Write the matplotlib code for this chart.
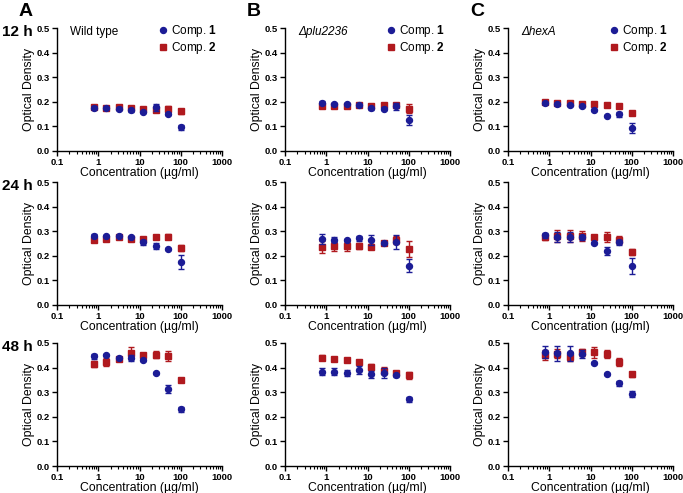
import matplotlib
matplotlib.use("Agg")
import matplotlib.pyplot as plt
from matplotlib.ticker import LogLocator, NullFormatter, FixedLocator, FormatStrFormatter
from matplotlib.lines import Line2D
import numpy as np

plt.rcParams['font.family'] = ['Liberation Sans', 'DejaVu Sans']
plt.rcParams['mathtext.fontset'] = 'custom'
plt.rcParams['mathtext.rm'] = 'Liberation Sans'
plt.rcParams['mathtext.bf'] = 'Liberation Sans:bold'
plt.rcParams['mathtext.it'] = 'Liberation Sans:italic'

conc = [0.78, 1.56, 3.125, 6.25, 12.5, 25, 50, 100]
row_labels = ["12 h", "24 h", "48 h"]
col_letters = ["A", "B", "C"]
strain_labels = ["Wild type", "Δplu2236", "ΔhexA"]
strain_styles = ["normal", "italic", "italic"]
series_labels = [r'Comp. $\mathbf{1}$', r'Comp. $\mathbf{2}$']

# 12 h
c1_12_A = [0.175, 0.175, 0.172, 0.165, 0.158, 0.178, 0.150, 0.097]
c1_12_A_err = [0.006, 0.004, 0.005, 0.005, 0.005, 0.015, 0.005, 0.010]
c2_12_A = [0.178, 0.176, 0.177, 0.173, 0.172, 0.166, 0.170, 0.162]
c2_12_A_err = [0.004, 0.004, 0.004, 0.004, 0.004, 0.006, 0.012, 0.010]
c1_12_B = [0.197, 0.193, 0.190, 0.186, 0.173, 0.172, 0.182, 0.125]
c1_12_B_err = [0.005, 0.004, 0.004, 0.004, 0.006, 0.006, 0.015, 0.020]
c2_12_B = [0.183, 0.181, 0.183, 0.185, 0.183, 0.186, 0.185, 0.172]
c2_12_B_err = [0.004, 0.004, 0.004, 0.004, 0.004, 0.004, 0.005, 0.018]
c1_12_C = [0.196, 0.192, 0.187, 0.182, 0.168, 0.144, 0.150, 0.095]
c1_12_C_err = [0.004, 0.004, 0.004, 0.005, 0.004, 0.003, 0.010, 0.020]
c2_12_C = [0.200, 0.197, 0.195, 0.193, 0.190, 0.187, 0.183, 0.155]
c2_12_C_err = [0.003, 0.003, 0.003, 0.003, 0.003, 0.003, 0.003, 0.003]

# 24 h
c1_24_A = [0.282, 0.281, 0.279, 0.278, 0.255, 0.240, 0.227, 0.175]
c1_24_A_err = [0.005, 0.004, 0.004, 0.004, 0.010, 0.012, 0.003, 0.030]
c2_24_A = [0.265, 0.268, 0.275, 0.268, 0.268, 0.276, 0.278, 0.232]
c2_24_A_err = [0.005, 0.004, 0.004, 0.004, 0.004, 0.004, 0.010, 0.013]
c1_24_B = [0.267, 0.265, 0.263, 0.271, 0.263, 0.253, 0.256, 0.160]
c1_24_B_err = [0.020, 0.010, 0.004, 0.010, 0.020, 0.004, 0.030, 0.025]
c2_24_B = [0.237, 0.238, 0.238, 0.240, 0.237, 0.252, 0.265, 0.227]
c2_24_B_err = [0.025, 0.020, 0.017, 0.012, 0.010, 0.004, 0.015, 0.032]
c1_24_C = [0.283, 0.278, 0.277, 0.275, 0.253, 0.220, 0.255, 0.157]
c1_24_C_err = [0.010, 0.020, 0.020, 0.010, 0.004, 0.015, 0.010, 0.033]
c2_24_C = [0.275, 0.280, 0.280, 0.280, 0.275, 0.275, 0.265, 0.217]
c2_24_C_err = [0.010, 0.025, 0.025, 0.020, 0.004, 0.020, 0.015, 0.012]

# 48 h
c1_48_A = [0.446, 0.451, 0.440, 0.438, 0.430, 0.378, 0.313, 0.230]
c1_48_A_err = [0.010, 0.004, 0.005, 0.012, 0.004, 0.004, 0.015, 0.010]
c2_48_A = [0.416, 0.423, 0.435, 0.460, 0.451, 0.453, 0.446, 0.351]
c2_48_A_err = [0.012, 0.015, 0.005, 0.025, 0.005, 0.015, 0.020, 0.004]
c1_48_B = [0.384, 0.384, 0.379, 0.391, 0.373, 0.377, 0.368, 0.272]
c1_48_B_err = [0.015, 0.015, 0.012, 0.015, 0.015, 0.020, 0.005, 0.010]
c2_48_B = [0.440, 0.433, 0.430, 0.422, 0.403, 0.387, 0.379, 0.369]
c2_48_B_err = [0.010, 0.005, 0.005, 0.005, 0.012, 0.015, 0.005, 0.015]
c1_48_C = [0.463, 0.458, 0.458, 0.455, 0.417, 0.375, 0.336, 0.292]
c1_48_C_err = [0.025, 0.030, 0.030, 0.015, 0.004, 0.004, 0.010, 0.012]
c2_48_C = [0.452, 0.457, 0.445, 0.462, 0.462, 0.455, 0.423, 0.372]
c2_48_C_err = [0.020, 0.020, 0.020, 0.015, 0.022, 0.015, 0.015, 0.010]

comp1 = [[c1_12_A, c1_12_B, c1_12_C], [c1_24_A, c1_24_B, c1_24_C], [c1_48_A, c1_48_B, c1_48_C]]
comp1_err = [[c1_12_A_err, c1_12_B_err, c1_12_C_err], [c1_24_A_err, c1_24_B_err, c1_24_C_err], [c1_48_A_err, c1_48_B_err, c1_48_C_err]]
comp2 = [[c2_12_A, c2_12_B, c2_12_C], [c2_24_A, c2_24_B, c2_24_C], [c2_48_A, c2_48_B, c2_48_C]]
comp2_err = [[c2_12_A_err, c2_12_B_err, c2_12_C_err], [c2_24_A_err, c2_24_B_err, c2_24_C_err], [c2_48_A_err, c2_48_B_err, c2_48_C_err]]

BLUE = '#1c1c96'
RED = '#b0191e'

W, H = 683, 493
fig = plt.figure(figsize=(W / 100, H / 100), dpi=100)

col_left = [57, 285, 508]
col_w = 165
row_top = [28, 182, 343]
row_h = 123

for r in range(3):
    for c in range(3):
        ax = fig.add_axes([col_left[c] / W, (H - row_top[r] - row_h) / H, col_w / W, row_h / H])
        ax.set_xscale('log')
        ax.set_xlim(0.1, 1000)
        ax.set_ylim(0, 0.5)
        ax.errorbar(conc, comp2[r][c], yerr=comp2_err[r][c], fmt='s', color=RED, ms=4.3,
                    elinewidth=1, capsize=2, capthick=1, zorder=3)
        ax.errorbar(conc, comp1[r][c], yerr=comp1_err[r][c], fmt='o', color=BLUE, ms=4.3,
                    elinewidth=1, capsize=2, capthick=1, zorder=4)
        for s in ['top', 'right']:
            ax.spines[s].set_visible(False)
        for s in ['left', 'bottom']:
            ax.spines[s].set_linewidth(1.0)
        ax.yaxis.set_major_locator(FixedLocator([0, 0.1, 0.2, 0.3, 0.4, 0.5]))
        ax.yaxis.set_major_formatter(FormatStrFormatter('%.1f'))
        ax.xaxis.set_major_locator(FixedLocator([0.1, 1, 10, 100, 1000]))
        ax.xaxis.set_major_formatter(FormatStrFormatter('%g'))
        ax.xaxis.set_minor_locator(LogLocator(base=10, subs=np.arange(2, 10)))
        ax.xaxis.set_minor_formatter(NullFormatter())
        ax.tick_params(axis='both', which='major', direction='out', length=3.5, width=1,
                       labelsize=6.8, pad=1.5)
        ax.tick_params(axis='x', which='minor', direction='out', length=2, width=0.8)
        for lab in ax.get_xticklabels() + ax.get_yticklabels():
            lab.set_fontweight('bold')
        ax.set_ylabel('Optical Density', fontsize=8.8, labelpad=1)
        ax.set_xlabel('Concentration (µg/ml)', fontsize=8.8, labelpad=0)
        if r == 0:
            ax.text(0.08, 0.965, strain_labels[c], transform=ax.transAxes, fontsize=8.5,
                    ha='left', va='center', fontstyle=strain_styles[c])
            handles = [Line2D([], [], ls='none', marker='o', color=BLUE, ms=4.3),
                       Line2D([], [], ls='none', marker='s', color=RED, ms=4.3)]
            ax.legend(handles, series_labels, loc='upper right', frameon=False,
                      fontsize=8.5, handletextpad=0.1, borderaxespad=0.0,
                      labelspacing=0.1, handlelength=1.2, bbox_to_anchor=(1.0, 1.08))

for r in range(3):
    fig.text(2 / W, 1 - (row_top[r] + 4) / H, row_labels[r], fontsize=11, fontweight='bold',
             ha='left', va='center')
for c in range(3):
    fig.text((col_left[c] - 38) / W, 1 - 11 / H, col_letters[c], fontsize=14, fontweight='bold',
             ha='left', va='center')

fig.savefig('out.png', dpi=100)
